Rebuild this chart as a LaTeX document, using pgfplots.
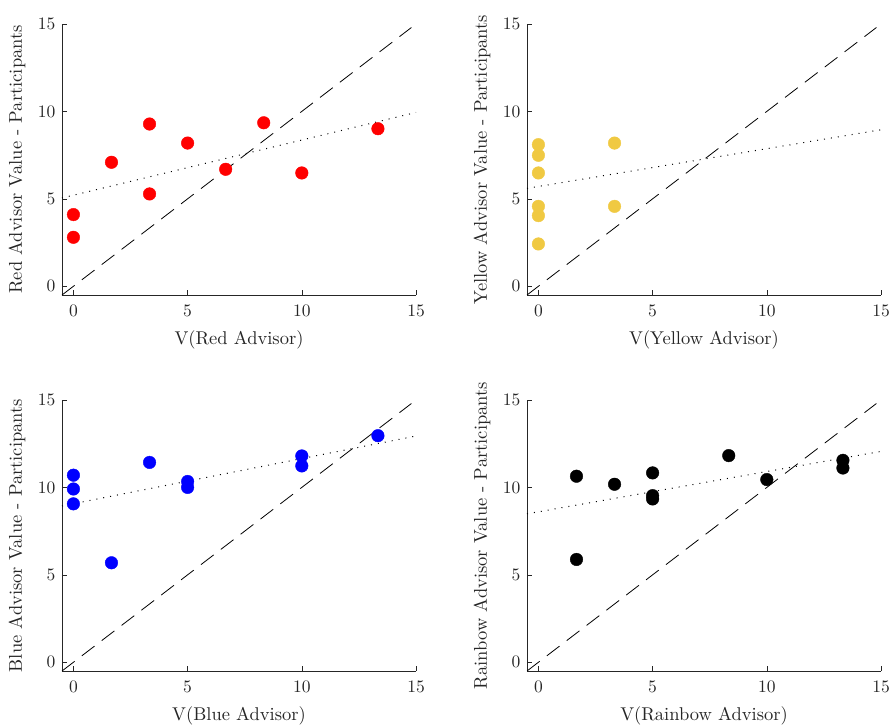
\documentclass[border=0pt]{standalone}
\usepackage{fontspec}
\setmainfont{lmroman10-regular.otf}
\usepackage{pgfplots}
\pgfplotsset{compat=1.18}
\definecolor{axgray}{RGB}{38,38,38}
\definecolor{myyellow}{RGB}{240,201,66}
\definecolor{myred}{RGB}{255,0,0}
\definecolor{myblue}{RGB}{0,0,255}
\pgfplotsset{
  panel/.style={
    scale only axis, width=354pt, height=271pt,
    xmin=-0.5, xmax=15, ymin=-0.5, ymax=15,
    axis x line*=bottom, axis y line*=left,
    axis line style={axgray, line width=0.6pt},
    tick style={axgray, line width=0.6pt},
    major tick length=5pt,
    tick align=inside,
    xtick={0,5,10,15}, ytick={0,5,10,15},
    /pgf/number format/assume math mode=true,
    ticklabel style={font=\fontsize{17.5}{20}\selectfont, text=axgray},
    xticklabel style={yshift=-6pt},
    yticklabel style={xshift=-3pt},
    label style={font=\fontsize{18.5}{21}\selectfont, text=axgray},
    xlabel style={at={(axis description cs:0.5,0)}, anchor=north, yshift=-32pt},
    ylabel style={at={(axis description cs:0,0.5)}, anchor=center, yshift=45pt},
    clip=false,
  },
  pts/.style={only marks, mark=*, mark size=6.3pt, mark options={draw=#1, fill=#1}},
  diag/.style={black, line width=0.8pt, dash pattern=on 16pt off 9pt},
  fit/.style={black, line width=1pt, dash pattern=on 1pt off 6pt},
}
\begin{document}
\begin{tikzpicture}
\path[use as bounding box] (0,0) rectangle (892pt,724pt);
% Top-left: Red
\begin{axis}[panel, at={(62pt,429pt)}, anchor=south west,
  xlabel={V(Red Advisor)}, ylabel={Red Advisor Value - Participants}]
\addplot[diag] coordinates {(-0.5,-0.5) (14.8,14.8)};
\addplot[fit] coordinates {(-0.5,5.05) (15,9.94)};
\addplot[pts=myred] coordinates {
(0,4.10) (0,2.80) (1.667,7.09) (3.333,9.28) (3.333,5.28) (5,8.19)
(6.667,6.69) (8.333,9.35) (10,6.48) (13.333,9.01)};
\end{axis}
% Top-right: Yellow
\begin{axis}[panel, at={(527pt,429pt)}, anchor=south west,
  xlabel={V(Yellow Advisor)}, ylabel={Yellow Advisor Value - Participants}]
\addplot[diag] coordinates {(-0.5,-0.5) (14.8,14.8)};
\addplot[fit] coordinates {(-0.5,5.60) (15,8.95)};
\addplot[pts=myyellow] coordinates {
(0,8.10) (0,7.49) (0,6.48) (0,4.57) (0,4.04) (0,2.42)
(3.333,8.19) (3.333,4.57)};
\end{axis}
% Bottom-left: Blue
\begin{axis}[panel, at={(62pt,53pt)}, anchor=south west,
  xlabel={V(Blue Advisor)}, ylabel={Blue Advisor Value - Participants}]
\addplot[diag] coordinates {(-0.5,-0.5) (14.8,14.8)};
\addplot[fit] coordinates {(-0.5,8.94) (15,12.94)};
\addplot[pts=myblue] coordinates {
(0,10.70) (0,9.91) (0,9.06) (1.667,5.69) (3.333,11.43) (5,10.34)
(5,10.0) (10,11.80) (10,11.23) (13.333,12.96)};
\end{axis}
% Bottom-right: Rainbow
\begin{axis}[panel, at={(527pt,53pt)}, anchor=south west,
  xlabel={V(Rainbow Advisor)}, ylabel={Rainbow Advisor Value - Participants}]
\addplot[diag] coordinates {(-0.5,-0.5) (14.8,14.8)};
\addplot[fit] coordinates {(-0.5,8.49) (15,12.06)};
\addplot[pts=black] coordinates {
(1.667,10.64) (1.667,5.88) (3.333,10.18) (5,10.83) (5,9.53) (5,9.34)
(8.333,11.82) (10,10.45) (13.333,11.55) (13.333,11.11)};
\end{axis}
\end{tikzpicture}
\end{document}
